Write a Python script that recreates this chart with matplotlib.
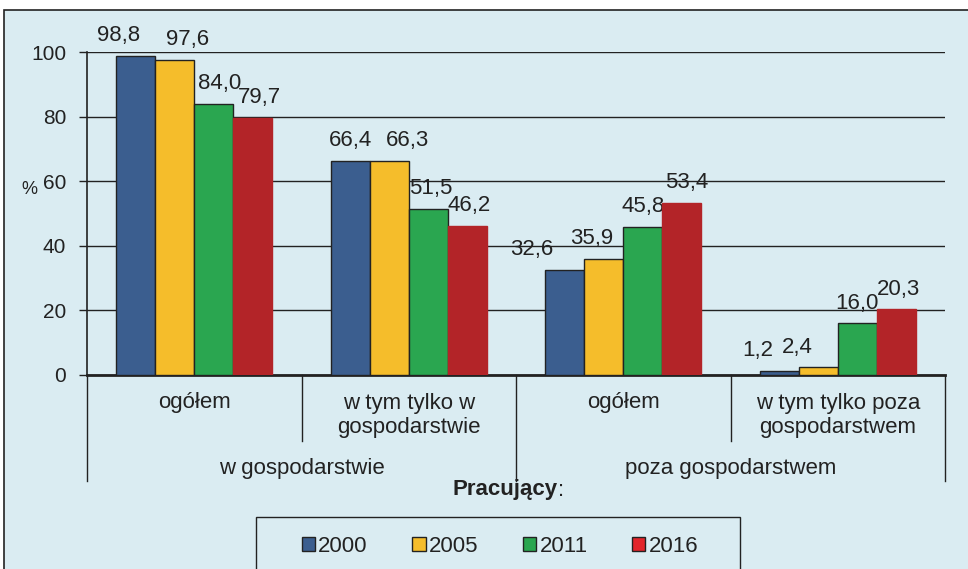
import numpy as np
import matplotlib.pyplot as plt
from matplotlib.patches import Rectangle, Patch

plt.rcParams['font.family'] = ['Liberation Sans', 'DejaVu Sans']

groups = ['ogółem', 'w tym tylko w\ngospodarstwie', 'ogółem', 'w tym tylko poza\ngospodarstwem']
supergroups = ['w gospodarstwie', 'poza gospodarstwem']
years = ['2000', '2005', '2011', '2016']
values = {
    '2000': [98.8, 66.4, 32.6, 1.2],
    '2005': [97.6, 66.3, 35.9, 2.4],
    '2011': [84.0, 51.5, 45.8, 16.0],
    '2016': [79.7, 46.2, 53.4, 20.3],
}
# horizontal nudges of the value labels (pixels), as placed in the original
label_dx = {
    '2000': [-17, 0, -33, -21],
    '2005': [13, 18, -12, -21],
    '2011': [6, 2, 0, 0],
    '2016': [7, 2, 5, 2],
}
colors = ['#3b5e8f', '#f5bd2b', '#2aa650', '#b32428']
legend_colors = ['#3b5e8f', '#f5bd2b', '#2aa650', '#e2252b']
edges = ['#222222', '#222222', '#222222', '#b32428']
fs = 16

fig = plt.figure(figsize=(9.68, 5.69), dpi=100)
fig.patch.set_facecolor('white')
bg = Rectangle((4/968, -0.1), 1.1, 1 - 10/569 + 0.1, transform=fig.transFigure,
               facecolor='#daecf2', edgecolor='#222222', lw=1.2, zorder=-10)
fig.patches.append(bg)
legbox = Rectangle((256/968, -0.1), 484/968, 1 - 517/569 + 0.1, transform=fig.transFigure,
                   facecolor='#daecf2', edgecolor='#222222', lw=1, zorder=-5)
fig.patches.append(legbox)

ax = fig.add_axes([87/968, 1 - 375/569, (945 - 87)/968, 323/569])
ax.set_facecolor('none')

x = np.arange(len(groups))
w = 0.182
px = 72 / 100  # pixels -> points
for i, y in enumerate(years):
    pos = x + (i - 1.5) * w
    bars = ax.bar(pos, values[y], w, color=colors[i], edgecolor=edges[i], lw=1, zorder=3)
    for b, v, dx in zip(bars, values[y], label_dx[y]):
        ax.annotate(f'{v:.1f}'.replace('.', ','), (b.get_x() + b.get_width()/2, v),
                    xytext=(dx * px, 7), textcoords='offset points', ha='center', va='bottom',
                    fontsize=fs, color='#222222')

ax.set_xlim(-0.5, 3.5)
ax.set_ylim(0, 100)
ax.set_yticks([0, 20, 40, 60, 80, 100])
ax.tick_params(axis='y', length=6, width=1, labelsize=15, colors='#222222', pad=9)
ax.set_xticks([])
ax.grid(axis='y', color='#222222', lw=1, zorder=0)
for s in ['top', 'right']:
    ax.spines[s].set_visible(False)
ax.spines['left'].set_color('#222222')
ax.spines['bottom'].set_color('#222222')
ax.spines['bottom'].set_linewidth(2)
ax.spines['left'].set_linewidth(1.2)

fig.text(29/968, 1 - 190/569, '%', fontsize=13, color='#222222', ha='center', va='center')

# category separators below the axis
tr = ax.get_xaxis_transform()
for xb, yb in zip([-0.5, 0.5, 1.5, 2.5, 3.5], [-0.328, -0.204, -0.328, -0.204, -0.328]):
    ax.plot([xb, xb], [0, yb], color='#222222', lw=1, transform=tr, clip_on=False)
for xi, g in zip(x, groups):
    yy = -0.084 if '\n' not in g else -0.125
    ax.text(xi, yy, g, transform=tr, ha='center', va='center', fontsize=fs,
            color='#222222', linespacing=1.15)
for xi, g in zip([0.5, 2.5], supergroups):
    ax.text(xi, -0.29, g, transform=tr, ha='center', va='center', fontsize=fs, color='#222222')

fig.text(558/968, 1 - 490/569, 'Pracujący', fontsize=fs, fontweight='bold', ha='right',
         va='center', color='#222222')
fig.text(558/968, 1 - 490/569, ':', fontsize=fs, ha='left', va='center', color='#222222')

handles = [Patch(facecolor=c, edgecolor='#222222', lw=1) for c in legend_colors]
leg = fig.legend(handles, years, loc='center', ncol=4,
                 bbox_to_anchor=(500/968, 1 - 546/569),
                 fontsize=fs, frameon=False, borderpad=0,
                 handlelength=0.6, handleheight=0.6, handletextpad=0.15,
                 columnspacing=2.0, borderaxespad=0)
for t in leg.get_texts():
    t.set_color('#222222')

fig.savefig('out.png', dpi=100)
